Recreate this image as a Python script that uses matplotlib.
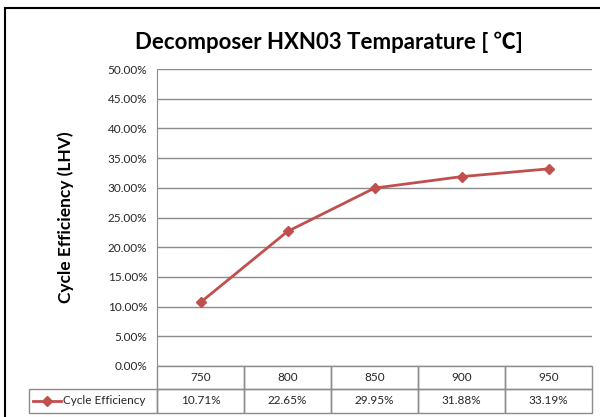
import matplotlib.pyplot as plt
from matplotlib.lines import Line2D
from matplotlib.patches import Rectangle
from matplotlib.ticker import FuncFormatter
import matplotlib.transforms as mtransforms

plt.rcParams['font.family'] = ['Lato', 'Noto Sans CJK JP', 'DejaVu Sans']

temps = ["750", "800", "850", "900", "950"]
efficiency = [10.71, 22.65, 29.95, 31.88, 33.19]
series_name = "Cycle Efficiency"
title = "Decomposer HXN03 Temparature [ \u2103]"
ylabel = "Cycle Efficiency (LHV)"

red = "#C0504D"
grid_col = "#8C8C8C"
text_col = "#262626"

fig = plt.figure(figsize=(6, 4.17), dpi=100)
ax = fig.add_axes([157 / 600, 1 - 366 / 417, 435 / 600, 297 / 417])

# outer chart border (cropped on right/bottom like the screenshot)
fig.add_artist(Rectangle((5 / 600, -0.05), 1.2, 1 - 8 / 417 + 0.05, transform=fig.transFigure,
                         fill=False, edgecolor="black", linewidth=1.5))

x = list(range(len(temps)))
ax.plot(x, efficiency, color=red, linewidth=2, marker="D", markersize=5,
        markerfacecolor=red, markeredgecolor=red)

ax.set_xlim(-0.5, len(temps) - 0.5)
ax.set_ylim(0, 50)
ax.set_yticks(range(0, 51, 5))
ax.yaxis.set_major_formatter(FuncFormatter(lambda v, p: f"{v:.2f}%"))
ax.set_xticks([])
ax.tick_params(axis="y", length=0, labelsize=8.5, labelcolor=text_col, pad=7)
ax.grid(axis="y", color=grid_col, linewidth=1)
ax.set_axisbelow(True)
for s in ["top", "right", "bottom"]:
    ax.spines[s].set_visible(False)
ax.spines["left"].set_color(grid_col)

ax.set_ylabel(ylabel, fontsize=12.5, fontweight="bold", color="black", labelpad=24)
fig.text(329 / 600, 1 - 42 / 417, title, ha="center", va="center",
         fontsize=16, fontweight="bold", color="black")

# data table under the plot
tr = mtransforms.blended_transform_factory(ax.transData, ax.transAxes)
ph = 297
r1, r2 = -23 / ph, -47 / ph
for i, t in enumerate(temps):
    ax.add_patch(Rectangle((i - 0.5, r1), 1, -r1, transform=tr, fill=False,
                           edgecolor=grid_col, linewidth=1, clip_on=False))
    ax.add_patch(Rectangle((i - 0.5, r2), 1, r1 - r2, transform=tr, fill=False,
                           edgecolor=grid_col, linewidth=1, clip_on=False))
    ax.text(i, r1 / 2, t, transform=tr, ha="center", va="center", fontsize=8.5, color=text_col)
    ax.text(i, (r1 + r2) / 2, f"{efficiency[i]:.2f}%", transform=tr, ha="center",
            va="center", fontsize=8.5, color=text_col)

lx0 = -128 / 435
ax.add_patch(Rectangle((lx0, r2), -lx0, r1 - r2, transform=ax.transAxes, fill=False,
                       edgecolor=grid_col, linewidth=1, clip_on=False))
ym = (r1 + r2) / 2
ax.add_artist(Line2D([lx0 + 4 / 435, lx0 + 32 / 435], [ym, ym], transform=ax.transAxes,
                     color=red, linewidth=2, clip_on=False))
ax.add_artist(Line2D([lx0 + 18 / 435], [ym], transform=ax.transAxes, color=red,
                     marker="D", markersize=5, clip_on=False))
ax.text(lx0 + 34 / 435, ym, series_name, transform=ax.transAxes, ha="left", va="center",
        fontsize=8.5, color=text_col)

fig.savefig("out.png", dpi=100)
